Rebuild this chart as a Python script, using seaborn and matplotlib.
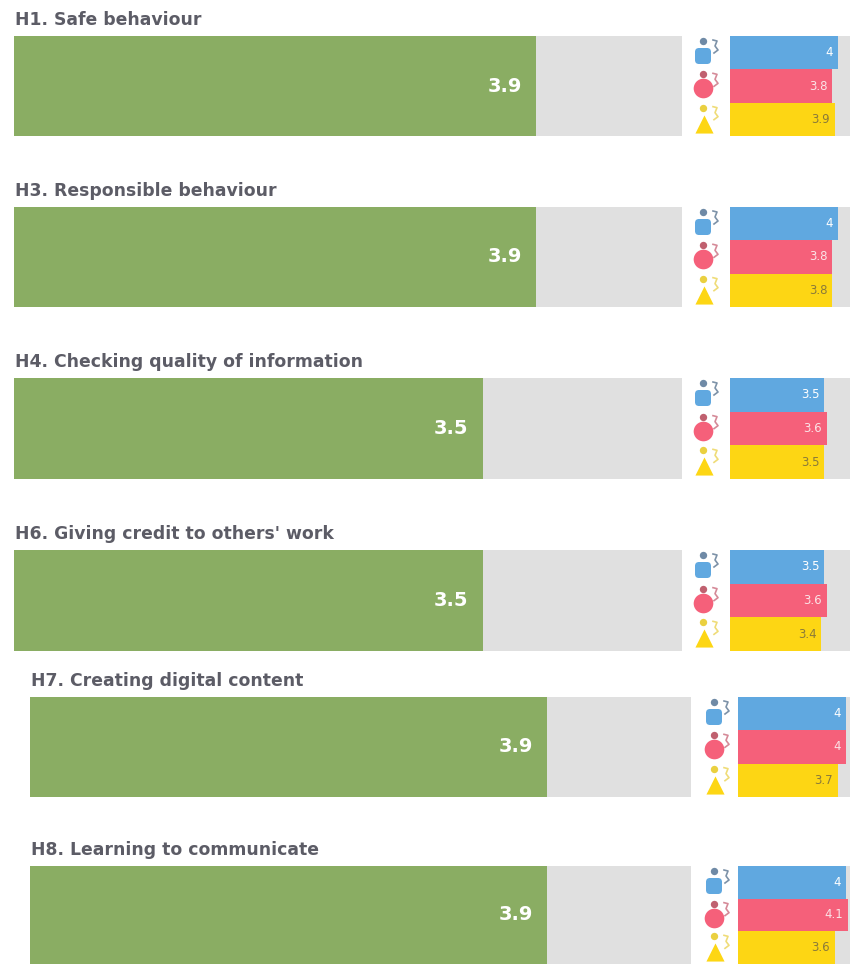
import matplotlib.pyplot as plt
import pandas as pd
import seaborn as sns
from matplotlib.patches import FancyBboxPatch

W, H = 850, 964

titles = [
    "H1. Safe behaviour",
    "H3. Responsible behaviour",
    "H4. Checking quality of information",
    "H6. Giving credit to others' work",
    "H7. Creating digital content",
    "H8. Learning to communicate",
]
overall = [3.9, 3.9, 3.5, 3.5, 3.9, 3.9]
boys = [4, 4, 3.5, 3.5, 4, 4]
girls = [3.8, 3.8, 3.6, 3.6, 4, 4.1]
other = [3.9, 3.8, 3.5, 3.4, 3.7, 3.6]
groups = ["boys", "girls", "other"]

GREEN = "#8aad63"
GREY = "#e0e0e0"
BLUE = "#60a8e0"
RED = "#f5607a"
YELLOW = "#fdd614"
TEXT = "#5c5c66"
palette = dict(zip(groups, [BLUE, RED, YELLOW]))
head_colors = ["#6f8aa6", "#c0606f", "#ead040"]
hook_colors = ["#7d92a8", "#d58a98", "#efdc78"]

# pixel layout of each panel: top, bottom, left x0, left x1, right x0, icon x
panels = [
    (36, 136, 14, 682, 730, 703),
    (207, 307, 14, 682, 730, 703),
    (378, 479, 14, 682, 730, 703),
    (550, 651, 14, 682, 730, 703),
    (697, 797, 30, 691, 738, 714),
    (866, 964, 30, 691, 738, 714),
]


def add_axes_px(fig, x0, x1, top, bottom):
    return fig.add_axes([x0 / W, 1 - bottom / H, (x1 - x0) / W, (bottom - top) / H])


def hide_frame(ax):
    ax.set_xticks([])
    ax.set_yticks([])
    ax.set_xlabel("")
    ax.set_ylabel("")
    sns.despine(ax=ax, left=True, bottom=True)


def plot_overall(ax, value):
    df = pd.DataFrame({"item": ["all"], "score": [value]})
    ax.set_facecolor(GREY)
    sns.barplot(data=df, y="item", x="score", color=GREEN, width=1, saturation=1, ax=ax)
    ax.set_xlim(0, 4.99)
    ax.set_ylim(0.5, -0.5)
    labels = ax.bar_label(
        ax.containers[0], fmt="%g", padding=-10,
        color="white", fontsize=14, fontweight="bold",
    )
    for t in labels:
        t.set_ha("right")
    hide_frame(ax)


def plot_groups(ax, vals, x0):
    df = pd.DataFrame({"group": groups, "score": vals})
    ax.set_facecolor(GREY)
    sns.barplot(
        data=df, y="group", x="score", hue="group", palette=palette,
        width=1, saturation=1, legend=False, ax=ax,
    )
    ax.set_xlim(0, (W - x0) / 26.9)
    ax.set_ylim(2.5, -0.5)
    for cont, col in zip(ax.containers, ["white", "#fbe3e6", "#8a7a3a"]):
        labels = ax.bar_label(cont, fmt="%g", padding=-3.5, color=col, fontsize=8.5)
        for t in labels:
            t.set_ha("right")
    hide_frame(ax)


def draw_icons(ov, x, top, bottom):
    h = (bottom - top) / 3
    for i, col in enumerate([BLUE, RED, YELLOW]):
        yc = top + h * i
        if i == 0:
            ov.add_patch(FancyBboxPatch(
                (x - 6, yc + 14), 12, 12, boxstyle="round,pad=2,rounding_size=4",
                facecolor=col, edgecolor="none",
            ))
        elif i == 1:
            ov.scatter(x, yc + 19, s=200, marker="o", color=col, linewidths=0)
        else:
            ov.scatter(x + 1, yc + 21, s=170, marker="^", color=col, linewidths=0)
        ov.scatter(x, yc + 5, s=28, marker="o", color=head_colors[i], linewidths=0)
        ov.plot([x + 10, x + 14, x + 12, x + 15, x + 11],
                [yc + 4, yc + 5, yc + 10, yc + 14, yc + 17],
                color=hook_colors[i], lw=1.2)


fig = plt.figure(figsize=(W / 100, H / 100), dpi=100, facecolor="white")

for i, (top, bottom, lx0, lx1, rx0, icon_x) in enumerate(panels):
    ax_left = add_axes_px(fig, lx0, lx1, top, bottom)
    plot_overall(ax_left, overall[i])
    ax_right = add_axes_px(fig, rx0, W, top, bottom)
    plot_groups(ax_right, [boys[i], girls[i], other[i]], rx0)

# overlay in pixel coordinates for the titles and the icons
ov = fig.add_axes([0, 0, 1, 1])
ov.set_xlim(0, W)
ov.set_ylim(H, 0)
ov.set_axis_off()
for i, (top, bottom, lx0, lx1, rx0, icon_x) in enumerate(panels):
    ov.text(lx0 + 1, top - 16, titles[i], color=TEXT, fontsize=12.4,
            fontweight="bold", va="center", ha="left", family="DejaVu Sans")
    draw_icons(ov, icon_x, top, bottom)

fig.savefig("out.png", dpi=100)
